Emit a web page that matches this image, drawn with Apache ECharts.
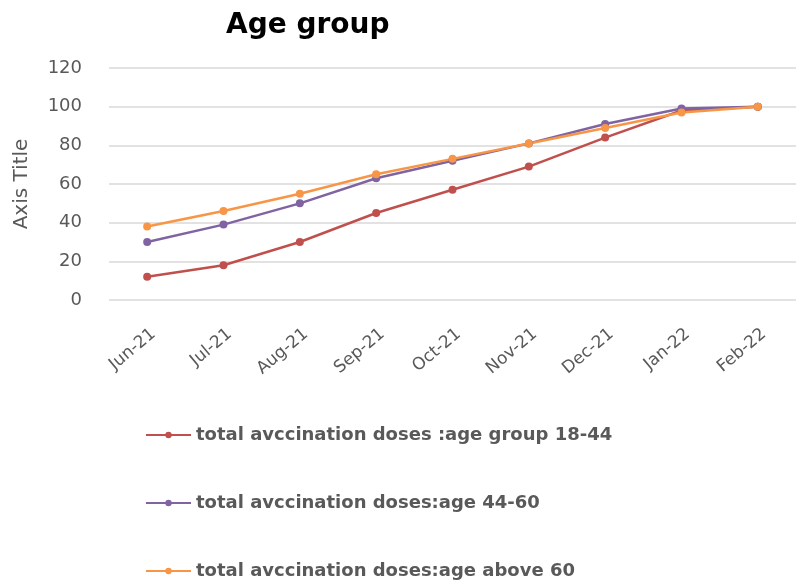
<!DOCTYPE html>
<html>
<head>
<meta charset="utf-8">
<script src="https://cdn.jsdelivr.net/npm/echarts@6/dist/echarts.min.js"></script>
<style>
  html, body { margin: 0; padding: 0; background: #fff; }
  #chart { width: 796px; height: 585px; }
</style>
</head>
<body>
<div id="chart"></div>
<script>
// Monthly cumulative vaccination doses by age group
const months = ['Jun-21', 'Jul-21', 'Aug-21', 'Sep-21', 'Oct-21', 'Nov-21', 'Dec-21', 'Jan-22', 'Feb-22'];
const age18to44 = [12, 18, 30, 45, 57, 69, 84, 98, 100];
const age44to60 = [30, 39, 50, 63, 72, 81, 91, 99, 100];
const ageAbove60 = [38, 46, 55, 65, 73, 81, 89, 97, 100];
const seriesNames = [
  'total avccination doses :age group 18-44',
  'total avccination doses:age 44-60',
  'total avccination doses:age above 60'
];
const colors = ['#C0504D', '#8064A2', '#F79646'];

const textColor = '#595959';
const font = 'DejaVu Sans';

function lineSeries(name, data, color) {
  return {
    name: name,
    type: 'line',
    data: data,
    symbol: 'circle',
    symbolSize: 8,
    lineStyle: { width: 2.5, color: color },
    itemStyle: { color: color },
    emphasis: { disabled: true }
  };
}

const chart = echarts.init(document.getElementById('chart'), null, { renderer: 'canvas' });
chart.setOption({
  animation: false,
  color: colors,
  title: {
    text: 'Age group',
    left: 221,
    top: 7,
    textStyle: { fontFamily: font, fontWeight: 'bold', fontSize: 28, color: '#000' }
  },
  grid: { left: 109, right: -8, top: 68, bottom: 285, containLabel: false },
  xAxis: {
    type: 'category',
    data: months,
    boundaryGap: true,
    axisLine: { show: false },
    axisTick: { show: false },
    axisLabel: {
      interval: 0,
      rotate: 40,
      margin: 26,
      verticalAlign: 'top',
      padding: [0, -1, 0, 0],
      fontFamily: font,
      fontSize: 17,
      color: textColor
    }
  },
  yAxis: {
    type: 'value',
    min: 0,
    max: 120,
    interval: 20,
    name: 'Axis Title',
    nameLocation: 'middle',
    nameRotate: 90,
    nameGap: 77,
    nameTextStyle: { fontFamily: font, fontSize: 20, color: textColor },
    axisLine: { show: false },
    axisTick: { show: false },
    axisLabel: { margin: 27, fontFamily: font, fontSize: 18, color: textColor },
    splitLine: { lineStyle: { color: '#D9D9D9', width: 1.5 } }
  },
  legend: {
    orient: 'vertical',
    left: 145,
    top: 426,
    height: 159,
    padding: 0,
    itemWidth: 45,
    itemHeight: 8,
    itemGap: 50,
    textStyle: { fontFamily: font, fontWeight: 'bold', fontSize: 18, color: textColor },
    data: seriesNames
  },
  series: [
    lineSeries(seriesNames[0], age18to44, colors[0]),
    lineSeries(seriesNames[1], age44to60, colors[1]),
    lineSeries(seriesNames[2], ageAbove60, colors[2])
  ]
});
</script>
</body>
</html>
